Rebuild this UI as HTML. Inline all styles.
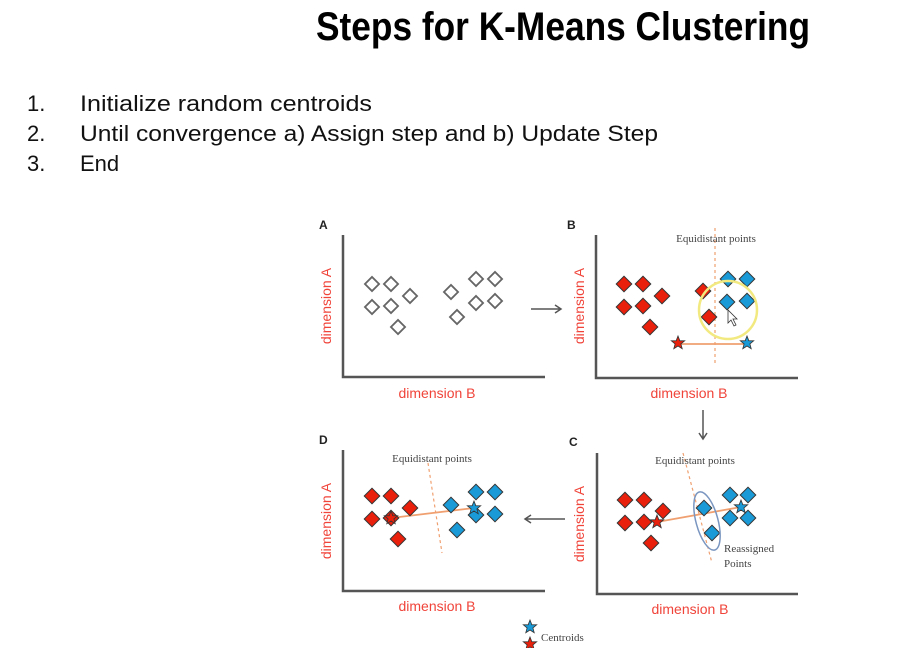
<!DOCTYPE html>
<html><head><meta charset="utf-8"><style>
html,body{margin:0;padding:0;background:#fff;}
svg{display:block;}
</style></head><body>
<svg width="897" height="648" viewBox="0 0 897 648" xmlns="http://www.w3.org/2000/svg">
<defs>
<g id="dw"><rect x="-5" y="-5" width="10" height="10" transform="rotate(45)" fill="#fff" stroke="#666" stroke-width="1.8"/></g>
<g id="dr"><rect x="-5.5" y="-5.5" width="11" height="11" transform="rotate(45)" fill="#e8200c" stroke="#333" stroke-width="1"/></g>
<g id="db"><rect x="-5.5" y="-5.5" width="11" height="11" transform="rotate(45)" fill="#1a9ad6" stroke="#333" stroke-width="1"/></g>
<polygon id="st" points="0,-7 1.8,-2.3 6.7,-2.2 2.9,0.9 4.2,5.7 0,3 -4.2,5.7 -2.9,0.9 -6.7,-2.2 -1.8,-2.3" stroke="#333" stroke-width="0.8"/>
</defs>
<text x="316" y="40" font-family="'Liberation Sans Narrow','Liberation Sans',sans-serif" font-weight="bold" font-size="40" textLength="494" lengthAdjust="spacingAndGlyphs" fill="#000">Steps for K-Means Clustering</text>
<g font-family="'Liberation Sans',sans-serif" font-size="22" fill="#111">
<text x="27" y="111">1.</text><text x="80" y="111" textLength="292" lengthAdjust="spacingAndGlyphs">Initialize random centroids</text>
<text x="27" y="141">2.</text><text x="80" y="141" textLength="578" lengthAdjust="spacingAndGlyphs">Until convergence a) Assign step and b) Update Step</text>
<text x="27" y="171">3.</text><text x="80" y="171">End</text>
</g>
<g font-family="'Liberation Sans',sans-serif">
<!-- Panel labels -->
<g font-weight="bold" font-size="12" fill="#222">
<text x="319" y="229">A</text><text x="567" y="229">B</text><text x="319" y="444">D</text><text x="569" y="446">C</text>
</g>
<!-- axes -->
<g stroke="#555" stroke-width="2.5" fill="none">
<path d="M343 235 V377 H545"/><path d="M596 235 V378 H798"/>
<path d="M343 450 V591 H545"/><path d="M597 453 V594 H798"/>
</g>
<g fill="#f0443a" font-size="14">
<text x="437" y="398" text-anchor="middle">dimension B</text>
<text x="689" y="398" text-anchor="middle">dimension B</text>
<text x="437" y="611" text-anchor="middle">dimension B</text>
<text x="690" y="614" text-anchor="middle">dimension B</text>
<text transform="translate(331,306) rotate(-90)" text-anchor="middle">dimension A</text>
<text transform="translate(584,306) rotate(-90)" text-anchor="middle">dimension A</text>
<text transform="translate(331,521) rotate(-90)" text-anchor="middle">dimension A</text>
<text transform="translate(584,524) rotate(-90)" text-anchor="middle">dimension A</text>
</g>
<!-- arrows -->
<g stroke="#555" stroke-width="1.5" fill="none">
<path d="M531 309 H561 M555 305 L561 309 L555 313"/>
<path d="M703 410 V439 M699 433 L703 439 L707 433"/>
<path d="M565 519 H525 M531 515 L525 519 L531 523"/>
</g>
<!-- Panel A -->
<use href="#dw" x="372" y="284"/><use href="#dw" x="391" y="284"/><use href="#dw" x="410" y="296"/>
<use href="#dw" x="372" y="307"/><use href="#dw" x="391" y="306"/><use href="#dw" x="398" y="327"/>
<use href="#dw" x="451" y="292"/><use href="#dw" x="476" y="279"/><use href="#dw" x="495" y="279"/>
<use href="#dw" x="476" y="303"/><use href="#dw" x="495" y="301"/><use href="#dw" x="457" y="317"/>
<!-- Panel B -->
<line x1="715" y1="228" x2="715" y2="366" stroke="#f0a070" stroke-width="1.2" stroke-dasharray="3,3"/>
<text x="716" y="242" text-anchor="middle" font-family="'Liberation Serif',serif" font-size="11" fill="#444">Equidistant points</text>
<line x1="678" y1="344" x2="747" y2="344" stroke="#f0a070" stroke-width="1.8"/>
<use href="#dr" x="624" y="284"/><use href="#dr" x="643" y="284"/><use href="#dr" x="662" y="296"/>
<use href="#dr" x="624" y="307"/><use href="#dr" x="643" y="306"/><use href="#dr" x="650" y="327"/>
<use href="#dr" x="703" y="291"/><use href="#dr" x="709" y="317"/>
<use href="#db" x="728" y="279"/><use href="#db" x="747" y="279"/><use href="#db" x="727" y="302"/><use href="#db" x="747" y="301"/>
<use href="#st" x="678" y="343" fill="#e8200c"/><use href="#st" x="747" y="343" fill="#1a9ad6"/>
<circle cx="728" cy="310" r="29" fill="none" stroke="#f2ea80" stroke-width="2.5"/>
<path d="M728 310 v13 l3 -3 l3 6 l2 -1 l-3 -6 h4 z" fill="#fff" stroke="#333" stroke-width="0.8"/>
<!-- Panel D -->
<line x1="428" y1="463" x2="442" y2="553" stroke="#f0a070" stroke-width="1.2" stroke-dasharray="3,3"/>
<text x="432" y="462" text-anchor="middle" font-family="'Liberation Serif',serif" font-size="11" fill="#444">Equidistant points</text>
<line x1="391" y1="518" x2="474" y2="508" stroke="#f0a070" stroke-width="1.8"/>
<use href="#dr" x="372" y="496"/><use href="#dr" x="391" y="496"/><use href="#dr" x="410" y="508"/>
<use href="#dr" x="372" y="519"/><use href="#dr" x="391" y="518"/><use href="#dr" x="398" y="539"/>
<use href="#db" x="451" y="505"/><use href="#db" x="476" y="492"/><use href="#db" x="495" y="492"/>
<use href="#db" x="476" y="515"/><use href="#db" x="495" y="514"/><use href="#db" x="457" y="530"/>
<use href="#st" x="391" y="518" fill="#e8200c"/><use href="#st" x="474" y="508" fill="#1a9ad6"/>
<!-- Panel C -->
<line x1="683" y1="453" x2="712" y2="563" stroke="#f0a070" stroke-width="1.2" stroke-dasharray="3,3"/>
<text x="695" y="464" text-anchor="middle" font-family="'Liberation Serif',serif" font-size="11" fill="#444">Equidistant points</text>
<line x1="657" y1="522" x2="741" y2="507" stroke="#f0a070" stroke-width="1.8"/>
<use href="#dr" x="625" y="500"/><use href="#dr" x="644" y="500"/><use href="#dr" x="663" y="511"/>
<use href="#dr" x="625" y="523"/><use href="#dr" x="644" y="522"/><use href="#dr" x="651" y="543"/>
<use href="#db" x="704" y="508"/><use href="#db" x="730" y="495"/><use href="#db" x="748" y="495"/>
<use href="#db" x="712" y="533"/><use href="#db" x="730" y="518"/><use href="#db" x="748" y="518"/>
<use href="#st" x="657" y="522" fill="#e8200c"/><use href="#st" x="741" y="507" fill="#1a9ad6"/>
<ellipse cx="707" cy="521" rx="11" ry="30" transform="rotate(-15 707 521)" fill="none" stroke="#7a96c0" stroke-width="1.5"/>
<g font-family="'Liberation Serif',serif" font-size="11" fill="#444">
<text x="724" y="552">Reassigned</text><text x="724" y="567">Points</text>
<text x="541" y="641">Centroids</text>
</g>
<use href="#st" x="530" y="627" fill="#1a9ad6"/><use href="#st" x="530" y="644" fill="#e8200c"/>
</g>
</svg>
</body></html>
